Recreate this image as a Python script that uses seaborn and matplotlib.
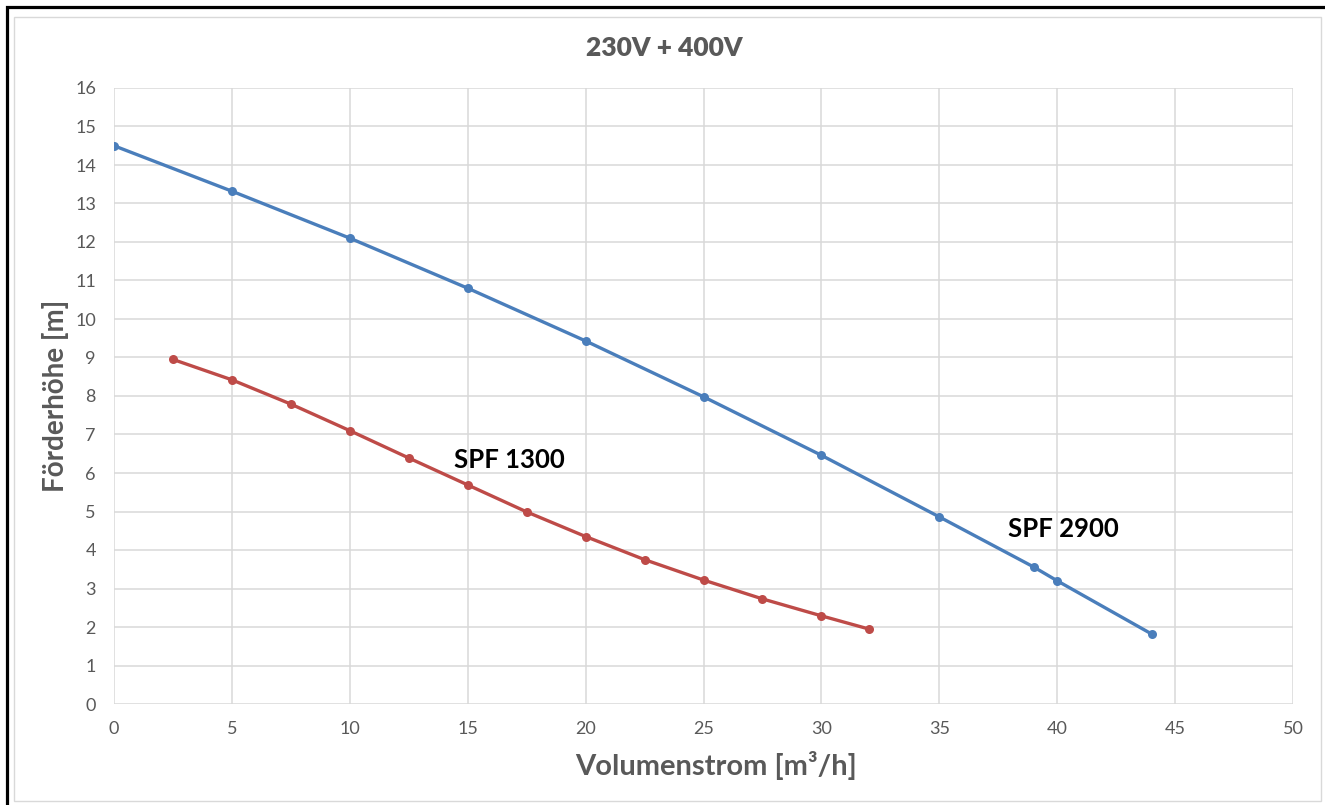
import matplotlib
matplotlib.use('Agg')
import matplotlib.pyplot as plt
import seaborn as sns
import pandas as pd
from matplotlib.patches import Rectangle

# Kennlinien (Volumenstrom m3/h -> Förderhöhe m)
spf2900_q = [0, 5, 10, 15, 20, 25, 30, 35, 39, 40, 44]
spf2900_h = [14.5, 13.32, 12.1, 10.8, 9.43, 7.98, 6.46, 4.86, 3.56, 3.2, 1.82]

spf1300_q = [2.5, 5, 7.5, 10, 12.5, 15, 17.5, 20, 22.5, 25, 27.5, 30, 32]
spf1300_h = [8.95, 8.42, 7.79, 7.1, 6.39, 5.69, 4.99, 4.35, 3.75, 3.22, 2.73, 2.29, 1.95]

x_ticks = [0, 5, 10, 15, 20, 25, 30, 35, 40, 45, 50]
y_ticks = list(range(0, 17))

BLUE = '#4A7EBB'
RED = '#BE4B48'
GREY = '#595959'

sns.set_style('whitegrid')
plt.rcParams['font.family'] = ['Lato', 'DejaVu Sans']

df2900 = pd.DataFrame({'q': spf2900_q, 'h': spf2900_h})
df1300 = pd.DataFrame({'q': spf1300_q, 'h': spf1300_h})

fig = plt.figure(figsize=(13.25, 8.05), dpi=100)
ax = fig.add_axes([114 / 1325, 1 - 704 / 805, 1179 / 1325, 616 / 805])

sns.lineplot(data=df2900, x='q', y='h', ax=ax, color=BLUE, linewidth=2.4,
             marker='o', markersize=6.5, markeredgewidth=0, sort=False, estimator=None)
sns.lineplot(data=df1300, x='q', y='h', ax=ax, color=RED, linewidth=2.4,
             marker='o', markersize=6.5, markeredgewidth=0, sort=False, estimator=None)

ax.set_xlim(0, 50)
ax.set_ylim(0, 16)
ax.set_xticks(x_ticks)
ax.set_yticks(y_ticks)
ax.grid(True, color='#D9D9D9', linewidth=1.1)
for s in ax.spines.values():
    s.set_visible(False)
ax.tick_params(axis='both', length=0, labelsize=13, labelcolor=GREY)
ax.tick_params(axis='y', pad=13)
ax.tick_params(axis='x', pad=12)

ax.set_xlabel('Volumenstrom [m³/h]', fontsize=21, fontweight='bold', color=GREY, va='center')
ax.xaxis.set_label_coords(0.511, -0.10)
ax.set_ylabel('Förderhöhe [m]', fontsize=20, fontweight='bold', color=GREY, va='center')
ax.yaxis.set_label_coords(-0.05, 0.5)

ax.text(14.4, 6.34, 'SPF 1300', fontsize=18.5, fontweight='bold', color='black', va='center')
ax.text(37.9, 4.55, 'SPF 2900', fontsize=18.5, fontweight='bold', color='black', va='center')

fig.text(0.501, 1 - 48 / 805, '230V + 400V', fontsize=19, fontweight='heavy',
         color=GREY, ha='center', va='center')

# Rahmen
fig.patches.append(Rectangle((7.5 / 1325, -0.05), 1.2, 1.05 - 7.5 / 805,
                             transform=fig.transFigure, fill=False,
                             edgecolor='black', linewidth=2.3, zorder=0))
fig.patches.append(Rectangle((14 / 1325, 1 - 801 / 805), 1307 / 1325, 784 / 805,
                             transform=fig.transFigure, fill=False,
                             edgecolor='#D9D9D9', linewidth=1.0, zorder=0))

fig.savefig('out.png', dpi=100)
